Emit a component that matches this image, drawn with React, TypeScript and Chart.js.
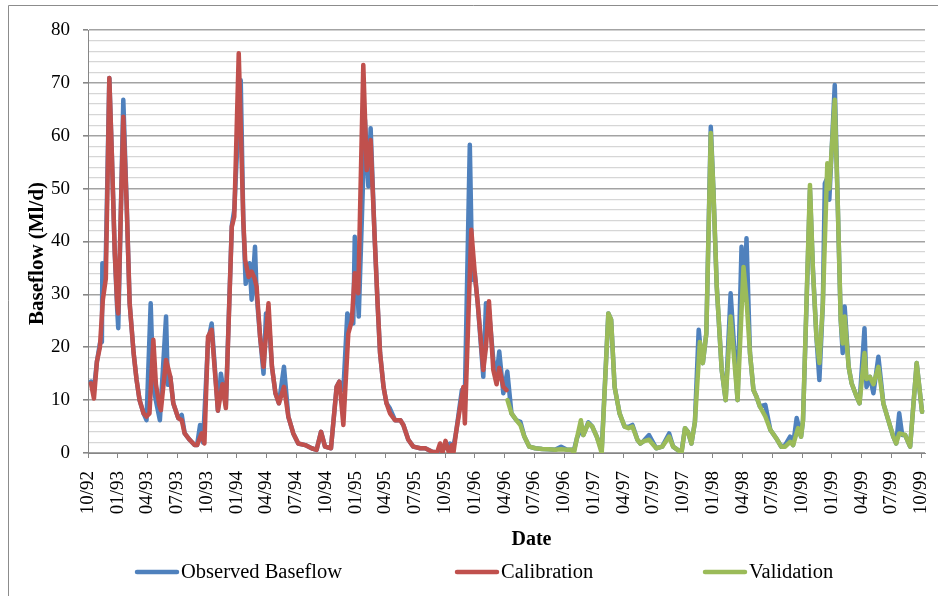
import React, { useEffect, useRef } from "react";
import { Chart, registerables } from "chart.js";

Chart.register(...registerables);

// x positions are months since 1 Oct 1992
const tickLabels = [
  "10/92", "01/93", "04/93", "07/93", "10/93", "01/94", "04/94", "07/94",
  "10/94", "01/95", "04/95", "07/95", "10/95", "01/96", "04/96", "07/96",
  "10/96", "01/97", "04/97", "07/97", "10/97", "01/98", "04/98", "07/98",
  "10/98", "01/99", "04/99", "07/99", "10/99",
];

const obsMonths = [
  0.3, 0.6, 0.9, 1.2, 1.4, 1.45, 1.75, 1.85, 2.15, 2.4, 2.7, 2.95, 3.05, 3.56, 3.9, 4.2, 4.6, 4.9, 5.2, 5.6,
  5.9, 6.32, 6.59, 6.9, 7.25, 7.87, 8.05, 8.3, 8.6, 9.1, 9.45, 9.75, 10.25, 10.75, 11.0, 11.3, 11.6, 12.1, 12.47, 13.1,
  13.4, 13.9, 14.5, 14.75, 15.0, 15.4, 15.66, 15.9, 16.3, 16.5, 16.84, 17.0, 17.35, 17.7, 17.95, 18.2, 18.55, 18.9, 19.25, 19.76,
  20.2, 20.7, 21.2, 21.9, 22.55, 23.05, 23.5, 23.9, 24.5, 25.07, 25.35, 25.75, 26.15, 26.5, 26.75, 26.9, 27.3, 27.93, 28.27, 28.5,
  28.9, 29.2, 29.45, 29.8, 30.1, 30.45, 30.96, 31.5, 31.8, 32.3, 32.8, 33.5, 34.0, 34.7, 35.2, 35.5, 36.0, 36.5, 36.85, 37.1,
  37.7, 38.0, 38.5, 38.75, 39.0, 39.3, 39.86, 40.13, 40.43, 40.87, 41.2, 41.47, 41.88, 42.28, 42.7, 43.2, 43.6, 44.0, 44.5, 45.1,
  45.8, 46.4, 47.1, 47.7, 48.3, 48.8, 49.0, 49.3, 49.7, 49.95, 50.45, 50.85, 51.3, 51.8, 52.47, 52.75, 53.1, 53.6, 54.1, 54.5,
  54.9, 55.4, 55.7, 56.0, 56.57, 57.3, 57.9, 58.6, 59.0, 59.7, 59.85, 60.2, 60.5, 60.85, 61.2, 61.58, 61.7, 62.0, 62.35, 62.8,
  63.05, 63.4, 63.9, 64.3, 64.8, 65.5, 65.9, 66.2, 66.4, 66.75, 67.1, 67.4, 67.75, 68.3, 68.8, 69.5, 69.9, 70.3, 70.8, 71.1,
  71.46, 71.9, 72.1, 72.8, 73.1, 73.45, 73.75, 74.1, 74.3, 74.55, 74.75, 75.3, 75.6, 75.9, 76.1, 76.3, 76.7, 77.0, 77.5, 77.8,
  78.3, 78.5, 78.85, 79.2, 79.7, 80.2, 80.7, 81.2, 81.5, 81.8, 82.1, 82.4, 82.9, 83.56, 84.1,
];
const obsFlow = [
  13.5, 12, 17.3, 20.7, 21, 35.9, 33.4, 42, 70.9, 56.7, 37.8, 27, 23.6, 66.8, 47, 28.3, 18.9, 13.8, 10, 7.5,
  6.2, 28.3, 12.5, 9.4, 6.2, 25.8, 12.9, 14.4, 9.4, 6.6, 7.2, 3.7, 2.5, 1.5, 1.5, 5.3, 2.0, 21, 24.5, 8,
  15, 9, 43, 46, 56, 70.5, 44, 32, 35.9, 29, 39, 30, 22, 15, 26.4, 26, 16.3, 11.3, 9.4, 16.3,
  6.9, 3.7, 1.8, 1.5, 0.9, 0.6, 4.0, 1.2, 0.9, 12.5, 13.5, 11.9, 26.4, 25, 24.5, 40.9, 25.8, 63, 50.4, 61.4,
  41, 28.3, 18.9, 12.5, 9.4, 8.4, 6.2, 6.2, 5.3, 2.5, 1.2, 0.9, 0.9, 0.25, 0.1, 0.8, 1.0, 1.8, 1.2, 3.7,
  11.9, 10.7, 58.3, 32.7, 34, 28.3, 14.4, 28.3, 27, 17.6, 14.5, 19.2, 11.3, 15.4, 7.5, 6.2, 5.9, 3.1, 1.2, 0.9,
  0.75, 0.7, 0.6, 1.2, 0.6, 0.6, 0.5, 2.8, 4.5, 3.4, 5.8, 5.0, 3.1, 0.5, 26.4, 25.2, 12.5, 7.5, 5.0, 4.9,
  5.3, 2.5, 1.8, 2.2, 3.4, 0.9, 1.2, 3.7, 1.2, 0.25, 0.2, 4.7, 4.0, 1.8, 5.9, 23.3, 21, 17, 22.6, 61.7,
  50.4, 31.5, 15.7, 10.0, 30.2, 10.0, 39, 29, 40.6, 18.9, 11.9, 10.7, 8.8, 9.1, 4.4, 2.5, 1.2, 1.5, 3.1, 1.5,
  6.6, 3.1, 6.2, 49.7, 34.6, 22, 13.8, 28.3, 51, 52, 47.9, 69.6, 47.2, 25.2, 18.9, 27.7, 16.3, 13.2, 10.7, 9.4,
  23.6, 12.5, 14.4, 11.3, 18.2, 9.4, 6.2, 3.1, 1.8, 7.5, 3.4, 3.4, 1.2, 17, 7.8,
];

const calMonths = [
  0.3, 0.6, 0.9, 1.2, 1.5, 1.8, 2.15, 2.4, 2.7, 2.95, 3.05, 3.56, 3.9, 4.2, 4.6, 4.9, 5.2, 5.6, 5.9, 6.2,
  6.59, 6.85, 7.2, 7.35, 7.87, 8.05, 8.3, 8.6, 9.1, 9.45, 9.75, 10.25, 10.75, 11.0, 11.46, 11.74, 12.1, 12.47, 13.1, 13.55,
  13.9, 14.5, 14.75, 15.2, 15.66, 15.85, 16.2, 16.5, 16.8, 17.0, 17.35, 17.7, 18.2, 18.55, 18.9, 19.25, 19.76, 20.2, 20.7, 21.2,
  21.9, 22.55, 23.05, 23.5, 23.9, 24.5, 25.07, 25.35, 25.75, 26.25, 26.6, 26.9, 27.25, 27.76, 28.1, 28.5, 28.9, 29.2, 29.45, 29.8,
  30.1, 30.45, 30.96, 31.5, 31.8, 32.3, 32.8, 33.5, 34.0, 34.7, 35.2, 35.5, 35.75, 36.05, 36.4, 36.7, 36.85, 37.1, 37.85, 38.0,
  38.65, 39.0, 39.3, 39.86, 40.13, 40.43, 40.87, 41.2, 41.47, 41.88, 42.2,
];
const calFlow = [
  13.2, 10.3, 17.3, 20, 29, 33, 70.9, 56.7, 37.8, 28, 26.4, 63.6, 47, 28.3, 18.9, 13.8, 10, 7.5, 6.9, 7.5,
  21.4, 13, 9, 8.1, 17.6, 16.3, 14.4, 9.4, 6.6, 6.2, 3.7, 2.5, 1.5, 1.5, 3.7, 1.8, 22, 23.3, 8, 13,
  8.5, 42.8, 44.7, 75.6, 44, 36.5, 33.3, 34.3, 33, 31.5, 22, 16.3, 28.3, 16.3, 11.3, 9.4, 12.5, 6.9, 3.7, 1.8,
  1.5, 0.9, 0.6, 4.0, 1.2, 0.9, 12.5, 13.5, 5.3, 22.6, 25, 34, 30.2, 73.4, 53.5, 59.2, 41, 28.3, 18.9, 12.5,
  9.4, 7.5, 6.2, 6.2, 5.3, 2.5, 1.2, 0.9, 0.9, 0.25, 0.1, 1.8, 0, 2.3, 0, 1.5, 0, 3.7, 12.5, 5.6,
  42.2, 34, 28.3, 15.7, 20, 28.7, 15.7, 13.0, 16.1, 12.5, 11.9,
];

const valMonths = [
  42.3, 42.7, 43.2, 43.6, 44.0, 44.5, 45.1, 45.8, 46.4, 47.1, 47.7, 48.3, 48.8, 49.0, 49.3, 49.7, 49.95, 50.45, 50.85, 51.3,
  51.8, 52.47, 52.75, 53.1, 53.6, 54.1, 54.5, 54.9, 55.4, 55.7, 56.0, 56.57, 57.3, 57.9, 58.6, 59.0, 59.7, 59.85, 60.2, 60.5,
  60.85, 61.2, 61.7, 62.0, 62.35, 62.8, 63.05, 63.4, 63.9, 64.3, 64.8, 65.5, 66.1, 66.4, 66.75, 67.1, 67.4, 67.75, 68.3, 68.8,
  69.5, 69.9, 70.3, 70.8, 71.1, 71.6, 71.9, 72.1, 72.8, 73.1, 73.45, 73.75, 74.1, 74.3, 74.55, 74.75, 75.3, 75.6, 75.9, 76.1,
  76.3, 76.7, 77.0, 77.5, 77.8, 78.3, 78.5, 78.85, 79.2, 79.7, 80.2, 80.7, 81.2, 81.5, 81.8, 82.4, 82.9, 83.56, 84.1,
];
const valFlow = [
  10.0, 7.5, 6.2, 5.3, 3.1, 1.2, 0.9, 0.75, 0.7, 0.6, 0.7, 0.6, 0.6, 0, 2.8, 6.2, 3.4, 5.6, 5.0, 3.1,
  0, 26.4, 25.2, 12.5, 7.5, 5.0, 4.7, 5.0, 2.5, 1.8, 2.2, 2.5, 0.9, 1.2, 3.1, 1.2, 0.25, 0, 4.7, 4.0,
  1.8, 5.9, 21, 17, 22.6, 60.5, 50.4, 31.5, 15.7, 10.0, 25.8, 10.0, 35.2, 29, 18.9, 11.9, 10.7, 8.8, 6.9, 4.4,
  2.5, 1.2, 1.2, 2.1, 1.5, 4.7, 3.1, 6.2, 50.7, 34.6, 22, 17, 28.3, 40, 54.8, 50, 66.8, 47.2, 25.2, 20.7,
  25.8, 16.3, 13.2, 10.7, 9.4, 18.9, 14, 14.4, 13, 16.3, 9.4, 6.2, 3.1, 1.8, 3.7, 3.4, 1.2, 17, 7.8,
];

const seriesNames = ["Observed Baseflow", "Calibration", "Validation"];
const seriesColors = ["#4f81bd", "#c0504d", "#9bbb59"];
const yTitle = "Baseflow (Ml/d)";
const xTitle = "Date";

const FONT = '"Liberation Serif", "Times New Roman", serif';

const toPoints = (xs: number[], ys: number[]) => xs.map((x, i) => ({ x, y: ys[i] }));

const decorPlugin = {
  id: "decor",
  afterDraw(chart: any) {
    const ctx = chart.ctx;
    const area = chart.chartArea;
    ctx.save();
    // outer chart border
    ctx.strokeStyle = "#8c8c8c";
    ctx.lineWidth = 1;
    ctx.beginPath();
    ctx.moveTo(8.5, chart.height);
    ctx.lineTo(8.5, 5.5);
    ctx.lineTo(chart.width, 5.5);
    ctx.stroke();

    ctx.fillStyle = "#000";
    ctx.textBaseline = "middle";
    ctx.textAlign = "center";
    // x title
    ctx.font = `bold 20px ${FONT}`;
    ctx.fillText(xTitle, (area.left + area.right) / 2 + 25, 540);
    // y title
    ctx.save();
    ctx.translate(38, (area.top + area.bottom) / 2 + 12);
    ctx.rotate(-Math.PI / 2);
    ctx.font = `bold 21px ${FONT}`;
    ctx.fillText(yTitle, 0, 0);
    ctx.restore();

    // legend
    const starts = [135, 455, 703];
    const ly = 572;
    ctx.font = `20.5px ${FONT}`;
    ctx.textAlign = "left";
    seriesNames.forEach((name, i) => {
      const x0 = starts[i];
      ctx.strokeStyle = seriesColors[i];
      ctx.lineWidth = 4.5;
      ctx.lineCap = "round";
      ctx.beginPath();
      ctx.moveTo(x0 + 2, ly);
      ctx.lineTo(x0 + 42, ly);
      ctx.stroke();
      ctx.fillText(name, x0 + 46, ly + 1);
    });
    ctx.restore();
  },
};

export default function App() {
  const ref = useRef<HTMLCanvasElement | null>(null);
  useEffect(() => {
    if (!ref.current) return;
    const common = {
      fill: false,
      tension: 0,
      pointRadius: 0,
      pointHoverRadius: 0,
      borderWidth: 4.5,
      borderJoinStyle: "round" as const,
      borderCapStyle: "round" as const,
    };
    const chart = new Chart(ref.current, {
      type: "line",
      data: {
        datasets: [
          { ...common, label: seriesNames[0], data: toPoints(obsMonths, obsFlow), borderColor: seriesColors[0], backgroundColor: seriesColors[0], order: 3 },
          { ...common, label: seriesNames[1], data: toPoints(calMonths, calFlow), borderColor: seriesColors[1], backgroundColor: seriesColors[1], order: 2 },
          { ...common, label: seriesNames[2], data: toPoints(valMonths, valFlow), borderColor: seriesColors[2], backgroundColor: seriesColors[2], order: 1 },
        ],
      },
      options: {
        animation: false,
        responsive: false,
        devicePixelRatio: 1,
        layout: { padding: { left: 0, top: 30, right: 13, bottom: 0 } },
        plugins: { legend: { display: false }, tooltip: { enabled: false } },
        scales: {
          x: {
            type: "linear",
            min: 0,
            max: 84.4,
            afterBuildTicks: (scale: any) => {
              scale.ticks = tickLabels.map((_, i) => ({ value: i * 3 }));
            },
            afterFit: (scale: any) => {
              scale.height = 143;
              scale.paddingLeft = 0;
              scale.paddingRight = 0;
            },
            ticks: {
              autoSkip: false,
              minRotation: 90,
              maxRotation: 90,
              padding: 13,
              color: "#000",
              font: { family: FONT, size: 19 },
              callback: (v: any) => tickLabels[Math.round(Number(v) / 3)] ?? "",
            },
            grid: { drawOnChartArea: false, drawTicks: true, tickLength: 5, tickColor: "#868686" },
            border: { display: true, color: "#868686", width: 1 },
          },
          y: {
            min: 0,
            max: 80,
            afterFit: (scale: any) => {
              scale.width = 88;
              scale.paddingTop = 0;
              scale.paddingBottom = 0;
            },
            ticks: {
              stepSize: 2,
              autoSkip: false,
              padding: 13,
              color: "#000",
              font: { family: FONT, size: 19 },
              callback: (v: any) => (Number(v) % 10 === 0 ? String(v) : ""),
            },
            grid: {
              drawTicks: true,
              tickLength: 5,
              color: (c: any) => (c.tick && c.tick.value % 10 === 0 ? "#a3a3a3" : "#d6d6d6"),
              lineWidth: (c: any) => (c.tick && c.tick.value % 10 === 0 ? 1.6 : 1.2),
              tickColor: (c: any) => (c.tick && c.tick.value % 10 === 0 ? "#868686" : "rgba(0,0,0,0)"),
            },
            border: { display: true, color: "#868686", width: 1 },
          },
        },
      },
      plugins: [decorPlugin],
    });
    return () => chart.destroy();
  }, []);
  return (
    <div style={{ position: "absolute", left: 0, top: 0, width: 938, height: 596, background: "#fff" }}>
      <canvas ref={ref} width={938} height={596} style={{ display: "block" }} />
    </div>
  );
}
